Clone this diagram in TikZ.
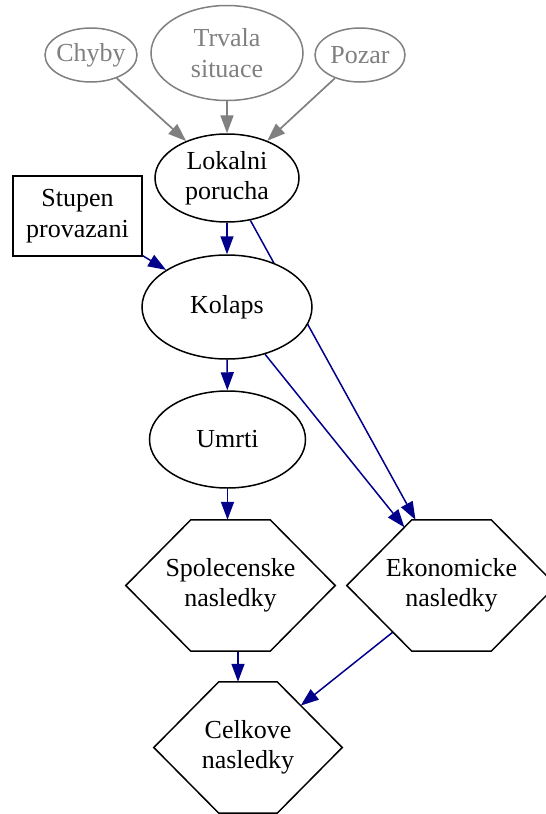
\documentclass[tikz,border=0pt]{standalone}
\usepackage{fontspec}
\setmainfont{Liberation Serif}
\usetikzlibrary{shapes.geometric,arrows.meta,backgrounds,calc}
\definecolor{edgeblue}{RGB}{0,0,139}
\definecolor{srcgray}{RGB}{128,128,128}
\begin{document}
\begin{tikzpicture}[x=1pt,y=-1pt,
  every node/.style={font=\fontsize{26}{30.5}\selectfont, align=center},
  ell/.style={ellipse, draw, line width=1.5pt, fill=white, inner sep=0pt},
  srcell/.style={ell, draw=srcgray, text=srcgray},
  box/.style={rectangle, draw, line width=1.5pt, fill=white, minimum width=129pt, minimum height=80pt, inner sep=0pt},
  hexnode/.style={rectangle, inner sep=0pt, minimum height=131pt},
  hexline/.style={draw, line width=1.5pt, line join=miter},
  edge/.style={draw=edgeblue, line width=1.5pt, -{Triangle[length=18pt,width=13pt]}},
  srcedge/.style={draw=srcgray, line width=1.7pt, -{Triangle[length=18pt,width=13pt]}}
]
\useasboundingbox (0,0) rectangle (546,814);

\node[srcell, minimum width=92pt, minimum height=54pt] (chyby) at (91,55) {\makebox[0pt]{Chyby}};
\node[srcell, minimum width=152pt, minimum height=95pt] (trvala) at (227,53) {Trvala\\situace};
\node[srcell, minimum width=90pt, minimum height=54pt] (pozar) at (360,55) {Pozar};
\node[ell, minimum width=144pt, minimum height=88pt] (lok) at (227,178) {Lokalni\\porucha};
\node[box] (stupen) at (77.5,216) {Stupen\\provazani};
\node[ell, minimum width=170pt, minimum height=104pt] (kolaps) at (227,307) {Kolaps};
\node[ell, minimum width=156pt, minimum height=97pt] (umrti) at (227.5,439.5) {Umrti};
\node[hexnode, minimum width=209pt] (spol) at (230.5,585.5) {Spolecenske\\nasledky};
\node[hexnode, minimum width=209pt] (ekon) at (451.5,585.5) {Ekonomicke\\nasledky};
\node[hexnode, minimum width=188pt] (celk) at (248,747.5) {Celkove\\nasledky};

\foreach \n in {spol,ekon,celk}
  \draw[hexline] (\n.west) -- ([xshift=65pt]\n.north west) -- ([xshift=-65pt]\n.north east)
    -- (\n.east) -- ([xshift=-65pt]\n.south east) -- ([xshift=65pt]\n.south west) -- cycle;

\begin{scope}[on background layer]
\draw[srcedge] (chyby) -- (lok);
\draw[srcedge] (trvala) -- (lok);
\draw[srcedge] (pozar) -- (lok);
\draw[edge] (lok) -- (kolaps);
\draw[edge] (stupen) -- (kolaps);
\draw[edge] (lok) -- (ekon);
\draw[edge] (kolaps) -- ($(ekon.west)!0.886!([xshift=65pt]ekon.north west)$);
\draw[edge] (kolaps) -- (umrti);
\draw[edge] (umrti) -- (umrti |- spol.north);
\draw[edge] ([xshift=7.5pt]spol.south) -- ([xshift=-10pt]celk.north);
\draw[edge] ($(ekon.west)!0.709!([xshift=65pt]ekon.south west)$) -- ($(celk.east)!0.638!([xshift=-65pt]celk.north east)$);
\end{scope}
\end{tikzpicture}
\end{document}
